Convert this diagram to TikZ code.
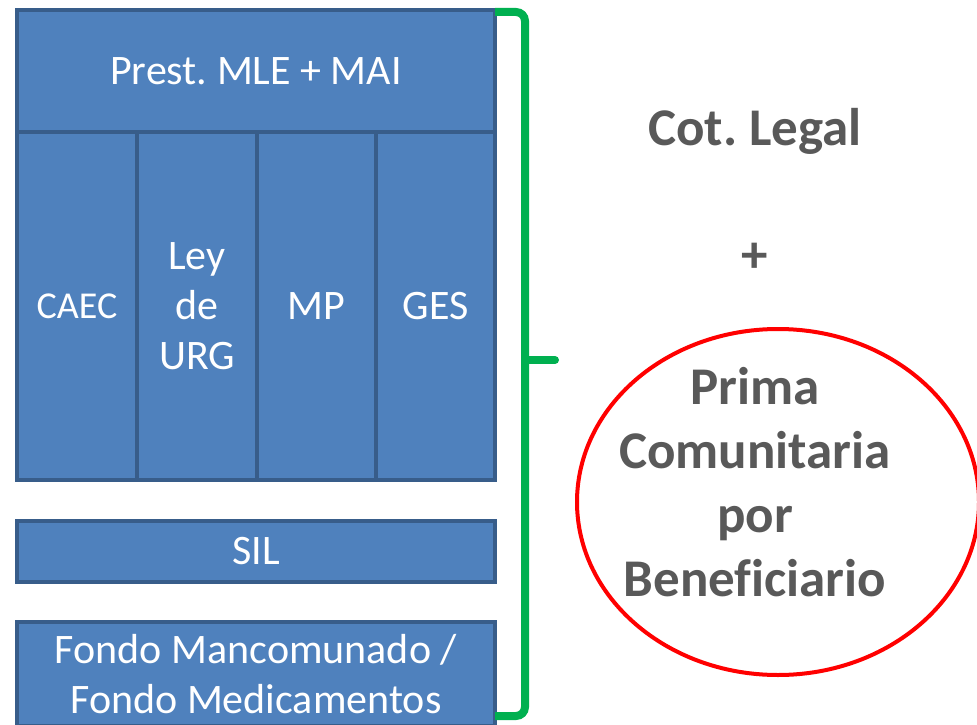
\documentclass[tikz,border=0pt]{standalone}
\usepackage{fontspec}
\setmainfont{Carlito}[Ligatures=NoCommon]
\usetikzlibrary{shapes.geometric}
\definecolor{boxfill}{HTML}{4F81BD}
\definecolor{boxline}{HTML}{385D8A}
\definecolor{txtgray}{HTML}{595959}
\definecolor{bracegreen}{HTML}{00B050}
\definecolor{ringred}{HTML}{FF0000}
\begin{document}
\frenchspacing
\begin{tikzpicture}[x=1pt,y=-1pt,
  blk/.style={draw=boxline, fill=boxfill, line width=3.5pt, text=white,
    inner sep=0pt, align=center, font=\fontsize{42}{50}\selectfont},
  big/.style={text=txtgray, align=center, inner sep=0pt,
    font=\bfseries\fontsize{53}{64}\selectfont},
  bracestyle/.style={draw=bracegreen, line width=8pt}]
\useasboundingbox (0,0) rectangle (977,725);
\clip (0,0) rectangle (977,725);
% blue blocks
\node[blk, minimum width=478pt, minimum height=122pt] (prest) at (256,71) {Prest. MLE + MAI};
\node[blk, minimum width=120pt, minimum height=348pt, font=\fontsize{38}{46}\selectfont] (caec) at (77,306) {CAEC};
\node[blk, minimum width=120pt, minimum height=348pt] (ley) at (197,306) {Ley\\de\\URG};
\node[blk, minimum width=119pt, minimum height=348pt] (mp) at (316.5,306) {MP};
\node[blk, minimum width=119pt, minimum height=348pt] (ges) at (435.5,306) {GES};
\node[blk, minimum width=478pt, minimum height=61pt] (sil) at (256,551.5) {SIL};
\node[blk, minimum width=478pt, minimum height=104pt] (fondo) at (256,674) {Fondo Mancomunado /\\Fondo Medicamentos};
% green brace
\draw[bracestyle, rounded corners=9pt] (495,12) -- (525,12) -- (525,716) -- (495,716);
\draw[bracestyle, line cap=round] (525,360) -- (555,360);
\coordinate (bracetip) at (555,360);
% right side texts
\node[big] (cot) at (755,131) {Cot. Legal};
\node[big] (plus) at (755,258) {+};
\node[draw=ringred, line width=4pt, ellipse, minimum width=402pt, minimum height=346pt, inner sep=0pt] (ring) at (778,502) {};
\node[big] (prima) at (755,482) {Prima\\Comunitaria\\por\\Beneficiario};
\end{tikzpicture}
\end{document}
